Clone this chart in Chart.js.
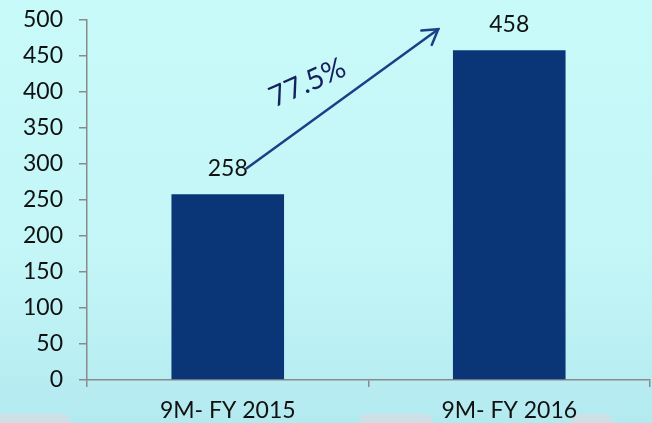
<!DOCTYPE html>
<html>
<head>
<meta charset="utf-8">
<script src="https://cdn.jsdelivr.net/npm/chart.js@4/dist/chart.umd.min.js"></script>
<style>
html,body{margin:0;padding:0;}
body{width:652px;height:423px;overflow:hidden;}
#wrap{width:652px;height:423px;position:relative;}
</style>
</head>
<body>
<div id="wrap"><canvas id="c" width="652" height="423"></canvas></div>
<script>
const categories = ["9M- FY 2015", "9M- FY 2016"];
const values = [258, 458];
const growthLabel = "77.5%";
const yTicks = [0, 50, 100, 150, 200, 250, 300, 350, 400, 450, 500];

const FONT = "Lato, 'Open Sans', sans-serif";

const bgPlugin = {
  id: 'bg',
  beforeDraw(chart) {
    const ctx = chart.ctx, w = chart.width, h = chart.height;
    ctx.save();
    const g = ctx.createLinearGradient(0, 0, 0, h);
    g.addColorStop(0, '#c9fafa');
    g.addColorStop(0.6, '#c4f6f7');
    g.addColorStop(1, '#b3eaf0');
    ctx.fillStyle = g;
    ctx.fillRect(0, 0, w, h);
    ctx.fillStyle = 'rgba(210,222,228,0.85)';
    const rr = (x, y, ww, hh, r) => {
      ctx.beginPath();
      ctx.moveTo(x + r, y);
      ctx.lineTo(x + ww - r, y);
      ctx.quadraticCurveTo(x + ww, y, x + ww, y + r);
      ctx.lineTo(x + ww, y + hh);
      ctx.lineTo(x, y + hh);
      ctx.lineTo(x, y + r);
      ctx.quadraticCurveTo(x, y, x + r, y);
      ctx.fill();
    };
    rr(-10, 414, 80, 20, 8);
    rr(360, 414, 72, 20, 8);
    rr(572, 414, 40, 20, 8);
    ctx.restore();
  }
};

const labelPlugin = {
  id: 'labels',
  afterDatasetsDraw(chart) {
    const ctx = chart.ctx;
    const meta = chart.getDatasetMeta(0);
    const ys = chart.scales.y;
    ctx.save();
    ctx.font = "23px " + FONT;
    ctx.fillStyle = '#111111';
    ctx.textAlign = 'center';
    ctx.textBaseline = 'alphabetic';
    meta.data.forEach((bar, i) => {
      ctx.fillText(String(values[i]), bar.x, bar.y - 18);
    });
    const b0 = meta.data[0], b1 = meta.data[1];
    const x0 = b0.x + 19, y0 = ys.getPixelForValue(values[0]) - 26;
    const x1 = b1.x - 71, y1 = ys.getPixelForValue(values[1]) - 21;
    ctx.strokeStyle = '#1d3f88';
    ctx.lineWidth = 2.5;
    ctx.lineCap = 'round';
    ctx.beginPath();
    ctx.moveTo(x0, y0);
    ctx.lineTo(x1, y1);
    ctx.stroke();
    const ang = Math.atan2(y1 - y0, x1 - x0);
    const L = 17, spread = 0.55;
    ctx.beginPath();
    ctx.moveTo(x1 - L * Math.cos(ang - spread), y1 - L * Math.sin(ang - spread));
    ctx.lineTo(x1, y1);
    ctx.lineTo(x1 - L * Math.cos(ang + spread), y1 - L * Math.sin(ang + spread));
    ctx.stroke();
    ctx.translate((x0 + x1) / 2 - 35, (y0 + y1) / 2 - 16);
    ctx.rotate(-0.42);
    ctx.font = "29px " + FONT;
    ctx.fillStyle = '#17205e';
    ctx.textBaseline = 'middle';
    ctx.fillText(growthLabel, 0, 0);
    ctx.restore();
  }
};

new Chart(document.getElementById('c'), {
  type: 'bar',
  data: {
    labels: categories,
    datasets: [{
      data: values,
      backgroundColor: '#0a3677',
      borderWidth: 0,
      barPercentage: 0.4,
      categoryPercentage: 1.0
    }]
  },
  options: {
    responsive: false,
    animation: false,
    devicePixelRatio: 1,
    layout: { padding: { top: 20, right: 2, left: 0, bottom: 0 } },
    plugins: { legend: { display: false }, tooltip: { enabled: false } },
    scales: {
      x: {
        grid: { display: true, drawOnChartArea: false, drawTicks: true, tickLength: 7, color: '#8a8a8a', lineWidth: 1.5, offset: true },
        border: { display: true, color: '#8a8a8a', width: 1.5 },
        ticks: { color: '#111111', font: { family: FONT, size: 23 }, padding: 10 },
        afterFit(s) { s.height = 43; s.paddingLeft = 0; s.paddingRight = 0; }
      },
      y: {
        min: 0, max: 500,
        afterBuildTicks(s) { s.ticks = yTicks.map(v => ({ value: v })); },
        grid: { display: true, drawOnChartArea: false, drawTicks: true, tickLength: 8, color: '#8a8a8a', lineWidth: 1.5 },
        border: { display: true, color: '#8a8a8a', width: 1.5 },
        ticks: { color: '#111111', font: { family: FONT, size: 23 }, padding: 16 },
        afterFit(s) { s.width = 87; s.paddingTop = 0; s.paddingBottom = 0; }
      }
    }
  },
  plugins: [bgPlugin, labelPlugin]
});
</script>
</body>
</html>
